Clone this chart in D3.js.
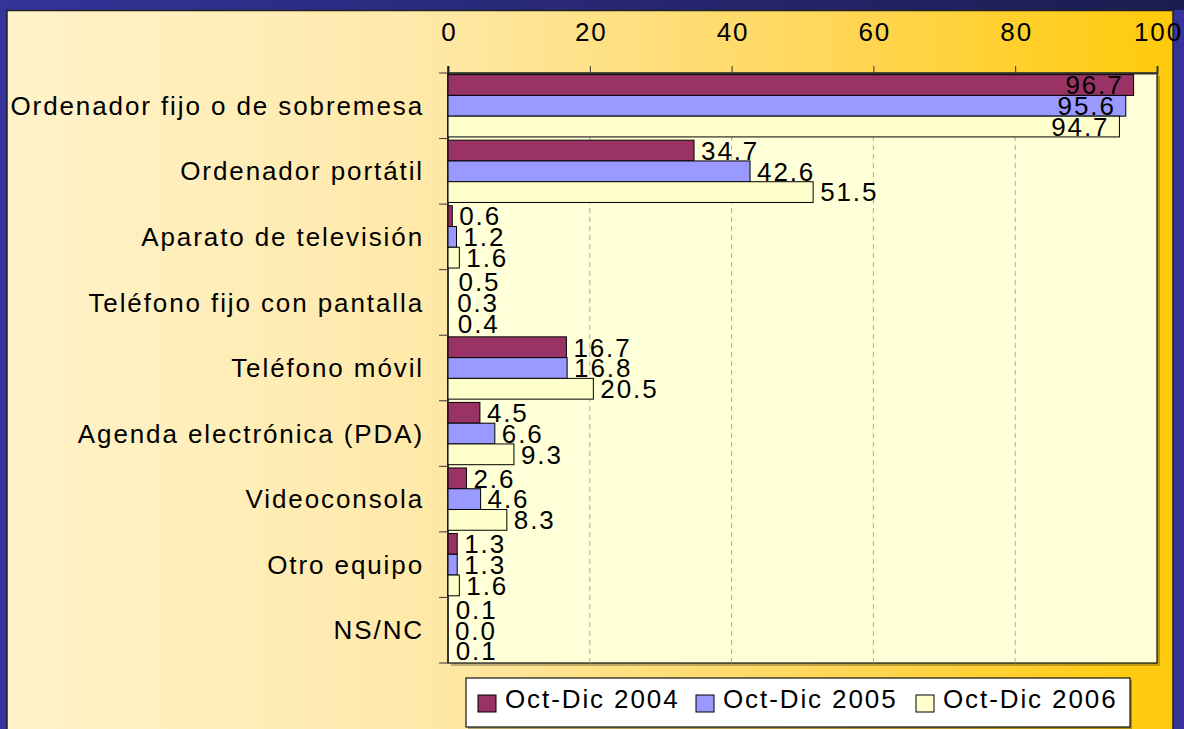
<!DOCTYPE html>
<html>
<head>
<meta charset="utf-8">
<script src="https://cdn.jsdelivr.net/npm/d3@7"></script>
<style>
  html, body { margin: 0; padding: 0; background: #333399; }
  svg { display: block; font-family: "Liberation Sans", Arial, sans-serif; }
</style>
</head>
<body>
<svg id="chart" width="1184" height="729"></svg>
<script>
// datos
const categories = [
  "Ordenador fijo o de sobremesa",
  "Ordenador portátil",
  "Aparato de televisión",
  "Teléfono fijo con pantalla",
  "Teléfono móvil",
  "Agenda electrónica (PDA)",
  "Videoconsola",
  "Otro equipo",
  "NS/NC"
];
const seriesNames = ["Oct-Dic 2004", "Oct-Dic 2005", "Oct-Dic 2006"];
const values2004 = [96.7, 34.7, 0.6, 0.5, 16.7, 4.5, 2.6, 1.3, 0.1];
const values2005 = [95.6, 42.6, 1.2, 0.3, 16.8, 6.6, 4.6, 1.3, 0.0];
const values2006 = [94.7, 51.5, 1.6, 0.4, 20.5, 9.3, 8.3, 1.6, 0.1];
const xTicks = [0, 20, 40, 60, 80, 100];
const colors = ["#993366", "#9999FF", "#FFFFCC"];

const FS = 26;      // tamaño de letra
const LS = 1.9;     // espaciado entre letras

const svg = d3.select("#chart");
const defs = svg.append("defs");

// fondo degradado
const bg = defs.append("linearGradient").attr("id", "bg").attr("x1", 0).attr("x2", 1).attr("y1", 0).attr("y2", 0);
bg.append("stop").attr("offset", "0%").attr("stop-color", "#FFF3CA");
bg.append("stop").attr("offset", "35%").attr("stop-color", "#FFE9AA");
bg.append("stop").attr("offset", "70%").attr("stop-color", "#FFD75A");
bg.append("stop").attr("offset", "100%").attr("stop-color", "#FFCA0A");

const topGrad = defs.append("linearGradient").attr("id", "topb").attr("x1", 0).attr("x2", 1).attr("y1", 0).attr("y2", 0);
topGrad.append("stop").attr("offset", "0%").attr("stop-color", "#333399");
topGrad.append("stop").attr("offset", "100%").attr("stop-color", "#1C1C50");

svg.append("rect").attr("x", 0).attr("y", 0).attr("width", 1184).attr("height", 729).attr("fill", "#333399");
svg.append("rect").attr("x", 0).attr("y", 0).attr("width", 1184).attr("height", 10).attr("fill", "url(#topb)");
svg.append("rect")
  .attr("x", 7).attr("y", 10.5).attr("width", 1166).attr("height", 730)
  .attr("fill", "url(#bg)").attr("stroke", "#222").attr("stroke-width", 1.5);

// escalas
const x = d3.scaleLinear().domain([0, 100]).range([448, 1157]);
const y = d3.scaleBand().domain(categories).range([73, 663]).paddingInner(0.05).paddingOuter(0.025);
const ySub = d3.scaleBand().domain(seriesNames).range([0, y.bandwidth()]);

// area del grafico
svg.append("rect")
  .attr("x", x(0) + 3).attr("y", 76).attr("width", x(100) - x(0)).attr("height", 663 - 73)
  .attr("fill", "#000").attr("opacity", 0.25);
svg.append("rect")
  .attr("x", x(0)).attr("y", 73).attr("width", x(100) - x(0)).attr("height", 663 - 73)
  .attr("fill", "#FFFFD8").attr("stroke", "#111").attr("stroke-width", 1.2);

// lineas de cuadricula
svg.append("g").selectAll("line")
  .data(xTicks.filter(d => d > 0 && d < 100))
  .join("line")
  .attr("x1", d => x(d)).attr("x2", d => x(d))
  .attr("y1", 73).attr("y2", 663)
  .attr("stroke", "#aaa").attr("stroke-dasharray", "5,4");

// eje superior
const xAxis = svg.append("g")
  .attr("transform", "translate(0,73)")
  .call(d3.axisTop(x).tickValues(xTicks).tickSize(7).tickPadding(25));
xAxis.select(".domain").attr("stroke", "#333").attr("stroke-width", 2);
xAxis.selectAll(".tick line").attr("stroke", "#333");
xAxis.selectAll("text")
  .attr("font-size", FS).attr("fill", "#000").attr("letter-spacing", LS)
  .attr("dx", LS / 2)
  .attr("font-family", "Liberation Sans, Arial, sans-serif");

// eje izquierdo con marcas entre categorias
const yAxis = svg.append("g").attr("transform", `translate(${x(0)},0)`);
yAxis.append("line").attr("x1", 0).attr("x2", 0).attr("y1", 66).attr("y2", 663).attr("stroke", "#111").attr("stroke-width", 1.2);
const bounds = d3.range(categories.length + 1).map(i => 73 + i * y.step());
yAxis.selectAll(".bt").data(bounds).join("line")
  .attr("x1", -9).attr("x2", 0)
  .attr("y1", d => d).attr("y2", d => d)
  .attr("stroke", "#333");
yAxis.selectAll(".cl").data(categories).join("text")
  .attr("x", -24)
  .attr("y", d => y(d) + y.bandwidth() / 2)
  .attr("dy", "0.35em")
  .attr("text-anchor", "end")
  .attr("font-size", FS)
  .attr("letter-spacing", LS)
  .attr("fill", "#000")
  .text(d => d);

// barras
const allSeries = [values2004, values2005, values2006];
allSeries.forEach((vals, si) => {
  const g = svg.append("g");
  g.selectAll("rect").data(vals).join("rect")
    .attr("x", x(0))
    .attr("y", (d, i) => y(categories[i]) + ySub(seriesNames[si]))
    .attr("width", d => x(d) - x(0))
    .attr("height", ySub.bandwidth())
    .attr("fill", colors[si])
    .attr("stroke", "#000")
    .attr("stroke-width", 1)
    .style("display", d => d > 0.5 ? null : "none");
  g.selectAll("text").data(vals).join("text")
    .attr("x", d => d > 90 ? x(d) - 10 : x(d) + 7)
    .attr("y", (d, i) => y(categories[i]) + ySub(seriesNames[si]) + ySub.bandwidth() / 2)
    .attr("dy", "0.36em")
    .attr("text-anchor", d => d > 90 ? "end" : "start")
    .attr("font-size", FS)
    .attr("letter-spacing", LS)
    .attr("fill", "#000")
    .text(d => d.toFixed(1));
});

// leyenda
const leg = svg.append("g").attr("transform", "translate(466,678)");
leg.append("rect").attr("x", 2).attr("y", 2).attr("width", 664).attr("height", 49).attr("fill", "#000").attr("opacity", 0.3);
leg.append("rect").attr("x", 0).attr("y", 0).attr("width", 664).attr("height", 49)
  .attr("fill", "#fff").attr("stroke", "#111").attr("stroke-width", 1.2);
const legX = [12, 230, 450];
seriesNames.forEach((s, i) => {
  leg.append("rect").attr("x", legX[i]).attr("y", 17).attr("width", 18).attr("height", 17)
    .attr("fill", colors[i]).attr("stroke", "#000");
  leg.append("text").attr("x", legX[i] + 27).attr("y", 21).attr("dy", "0.35em")
    .attr("font-size", FS).attr("letter-spacing", LS).attr("fill", "#000").text(s);
});
</script>
</body>
</html>
